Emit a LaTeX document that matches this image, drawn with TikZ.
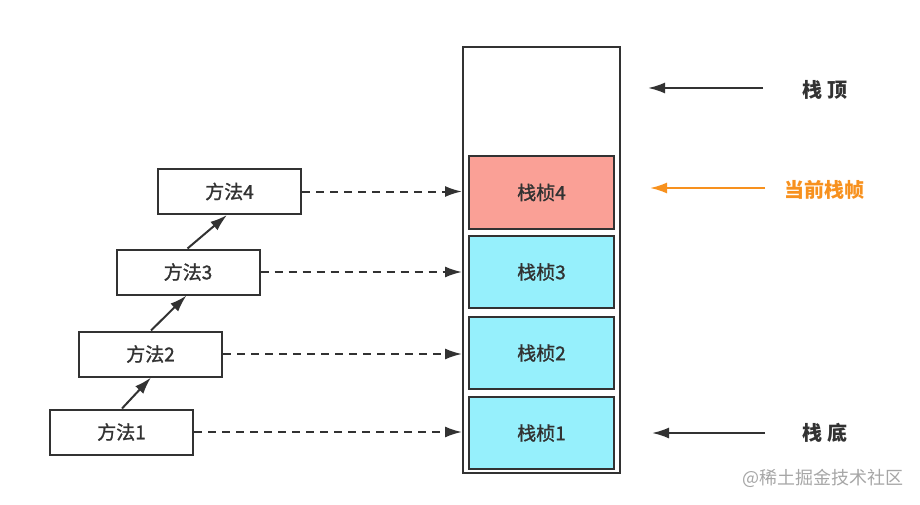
\documentclass[tikz,border=0pt]{standalone}
\usepackage{fontspec}
\setmainfont{Noto Sans CJK SC}
\newfontfamily\boxfont[FakeBold=1.2]{Noto Sans CJK SC}
\usetikzlibrary{arrows.meta}
\definecolor{fr_red}{RGB}{250, 160, 150}
\definecolor{fr_cyan}{RGB}{150, 240, 252}
\definecolor{cur_orange}{RGB}{247, 145, 30}
\definecolor{ln_gray}{RGB}{50, 50, 50}
\tikzstyle{mn}=[rectangle,fill=white,draw=ln_gray,line width=2pt,text=ln_gray,
  minimum width=143pt,minimum height=45pt,inner sep=0pt,font=\boxfont\fontsize{19}{22}\selectfont]
\tikzstyle{fn}=[rectangle,draw=ln_gray,line width=2pt,text=ln_gray,
  minimum width=145pt,minimum height=72pt,inner sep=0pt,font=\boxfont\fontsize{19}{22}\selectfont]
\tikzstyle{lbl}=[font=\fontsize{20}{24}\selectfont\bfseries,text=ln_gray]
\tikzstyle{none}=[]

\begin{document}
\begin{tikzpicture}[x=1pt, y=-1pt, >={Latex[length=17pt,width=11pt]}, line width=2pt, draw=ln_gray]
            \useasboundingbox (0, 0) rectangle (920, 505);
            \node [draw=ln_gray, minimum width=157pt, minimum height=426pt, inner sep=0pt] (0) at (541.5, 260) {};
            \node [style=fn, fill=fr_red] (1) at (541.5, 192.5) {栈桢4};
            \node [style=fn, fill=fr_cyan] (2) at (541.5, 272) {栈桢3};
            \node [style=fn, fill=fr_cyan] (3) at (541.5, 353) {栈桢2};
            \node [style=fn, fill=fr_cyan] (4) at (541.5, 433) {栈桢1};
            \node [style=mn] (5) at (121.5, 432) {方法1};
            \node [style=mn] (6) at (150.5, 354) {方法2};
            \node [style=mn] (7) at (188, 272) {方法3};
            \node [style=mn] (8) at (229.5, 191.5) {方法4};
            \node [style=lbl] (9) at (825, 90) {栈 顶};
            \node [style=lbl, text=cur_orange] (10) at (824, 190) {当前栈帧};
            \node [style=lbl] (11) at (825, 433) {栈 底};
            \node [style=none, text=gray!70, font=\fontsize{18}{21}\selectfont] (12) at (823, 478) {@稀土掘金技术社区};
            \draw [->] ([xshift=73pt]5.north west) to ([xshift=73pt]6.south west);
            \draw [->] ([xshift=73pt]6.north west) to ([xshift=71pt]7.south west);
            \draw [->] ([xshift=72pt]7.north west) to ([xshift=70pt]8.south west);
            \draw [->, dash pattern=on 8pt off 6pt] (5) to (0.west |- 5);
            \draw [->, dash pattern=on 8pt off 6pt] (6) to (0.west |- 6);
            \draw [->, dash pattern=on 8pt off 6pt] (7) to (0.west |- 7);
            \draw [->, dash pattern=on 8pt off 6pt] (8) to (0.west |- 8);
            \draw [->] ([xshift=-62pt, yshift=2pt]9.center) to ([xshift=-177pt, yshift=2pt]9.center);
            \draw [->, draw=cur_orange] ([xshift=-59pt, yshift=2pt]10.center) to ([xshift=-174pt, yshift=2pt]10.center);
            \draw [->] ([xshift=-60pt]11.center) to ([xshift=-173pt]11.center);
    \end{tikzpicture}
\end{document}
